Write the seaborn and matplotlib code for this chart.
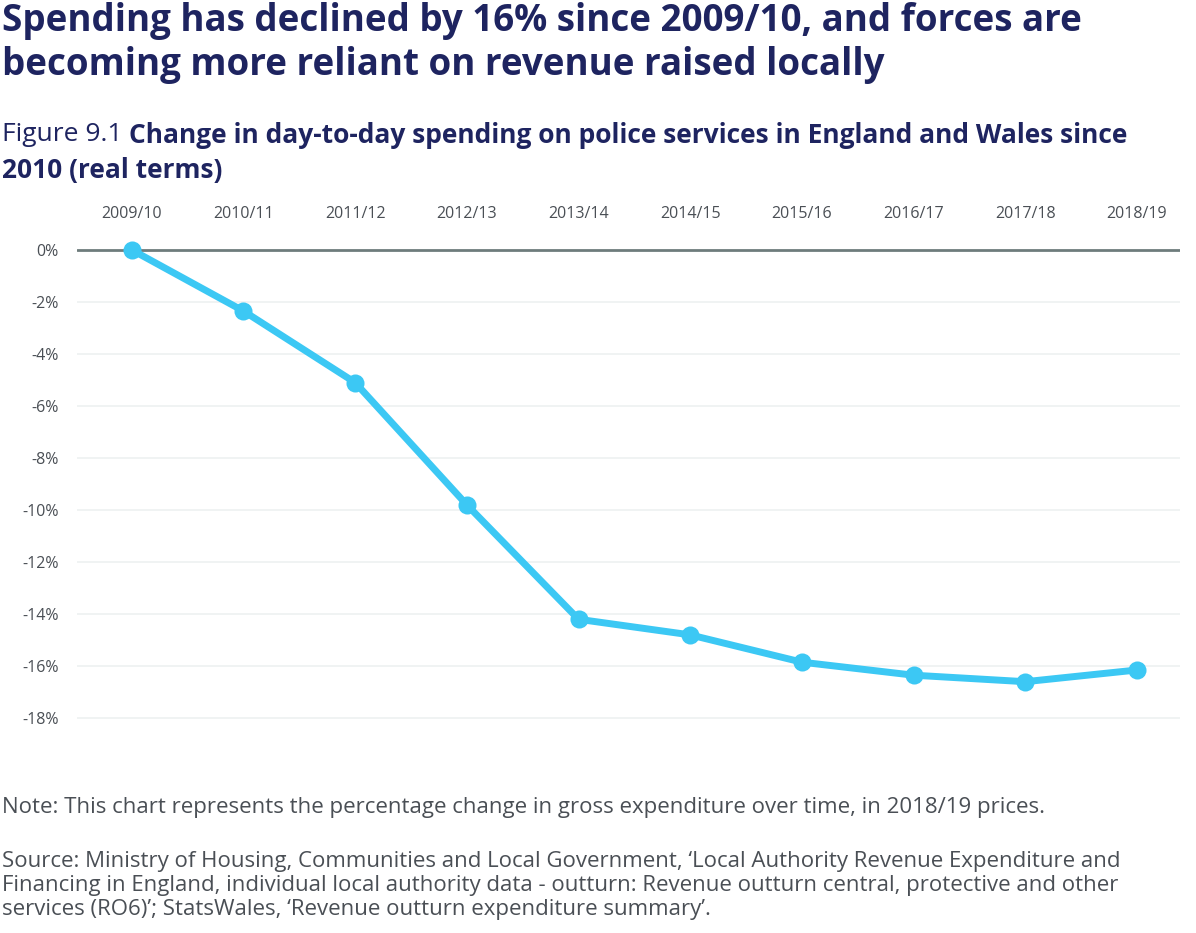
import matplotlib
matplotlib.use('Agg')
import matplotlib.pyplot as plt
import seaborn as sns
import pandas as pd

# Данные графика
years = ['2009/10', '2010/11', '2011/12', '2012/13', '2013/14',
         '2014/15', '2015/16', '2016/17', '2017/18', '2018/19']
change_pct = [0.0, -2.35, -5.1, -9.8, -14.2, -14.8, -15.85, -16.35, -16.6, -16.15]
y_ticks = [0, -2, -4, -6, -8, -10, -12, -14, -16, -18]
y_tick_labels = ['0%', '-2%', '-4%', '-6%', '-8%', '-10%', '-12%', '-14%', '-16%', '-18%']

title = ('Spending has declined by 16% since 2009/10, and forces are\n'
         'becoming more reliant on revenue raised locally')
fig_label = 'Figure 9.1 '
subtitle_1 = 'Change in day-to-day spending on police services in England and Wales since'
subtitle_2 = '2010 (real terms)'
note = 'Note: This chart represents the percentage change in gross expenditure over time, in 2018/19 prices.'
source = ("Source: Ministry of Housing, Communities and Local Government, \u2018Local Authority Revenue Expenditure and\n"
          "Financing in England, individual local authority data - outturn: Revenue outturn central, protective and other\n"
          "services (RO6)\u2019; StatsWales, \u2018Revenue outturn expenditure summary\u2019.")

df = pd.DataFrame({'year': years, 'change': change_pct})

sns.set_theme(style='white')
plt.rcParams['font.family'] = ['Open Sans', 'DejaVu Sans']

navy = '#1e2460'
grey_text = '#4a4f55'
line_blue = '#3cc8f4'

W, H = 1196, 933
fig = plt.figure(figsize=(W / 100, H / 100), dpi=100)
fig.patch.set_facecolor('white')

# Оси: слева 77px, справа 1180px, сверху 240px, снизу 728px
ax = fig.add_axes([77 / W, 1 - 728 / H, (1180 - 77) / W, (728 - 240) / H])

sns.lineplot(data=df, x='year', y='change', ax=ax, color=line_blue,
             linewidth=5, marker='o', markersize=13, markeredgewidth=0,
             sort=False, zorder=3)

ax.set_xlim(-0.49, 9.385)
ax.set_ylim(-18.38, 0.38)
ax.set_yticks(y_ticks)
ax.set_yticklabels(y_tick_labels)
ax.xaxis.tick_top()
ax.tick_params(axis='both', length=0, labelsize=11.5, colors=grey_text)
ax.tick_params(axis='x', pad=13)
ax.tick_params(axis='y', pad=13)
ax.set_xlabel('')
ax.set_ylabel('')

# Сетка
for t in y_ticks:
    if t == 0:
        ax.axhline(t, color='#6e7c7c', linewidth=2, zorder=2)
    else:
        ax.axhline(t, color='#eef1f1', linewidth=1.2, zorder=1)

for s in ax.spines.values():
    s.set_visible(False)

# Заголовки
fig.text(2 / W, 1 - 2 / H, title, ha='left', va='top', fontsize=26.5,
         fontweight='bold', color=navy, linespacing=1.22)

renderer = fig.canvas.get_renderer()
fl = fig.text(2 / W, 1 - 122 / H, fig_label, ha='left', va='top', fontsize=19,
              color=navy)
bb = fl.get_window_extent(renderer)
fig.text(bb.x1 / W, 1 - 122 / H, subtitle_1, ha='left', va='top', fontsize=19,
         fontweight='bold', color=navy)
fig.text(2 / W, 1 - 157 / H, subtitle_2, ha='left', va='top', fontsize=19,
         fontweight='bold', color=navy)

# Примечание и источник
fig.text(2 / W, 1 - 797 / H, note, ha='left', va='top', fontsize=16,
         color=grey_text)
fig.text(2 / W, 1 - 851 / H, source, ha='left', va='top', fontsize=16,
         color=grey_text, linespacing=1.2)

fig.savefig('out.png', dpi=100, facecolor='white')
plt.close(fig)
